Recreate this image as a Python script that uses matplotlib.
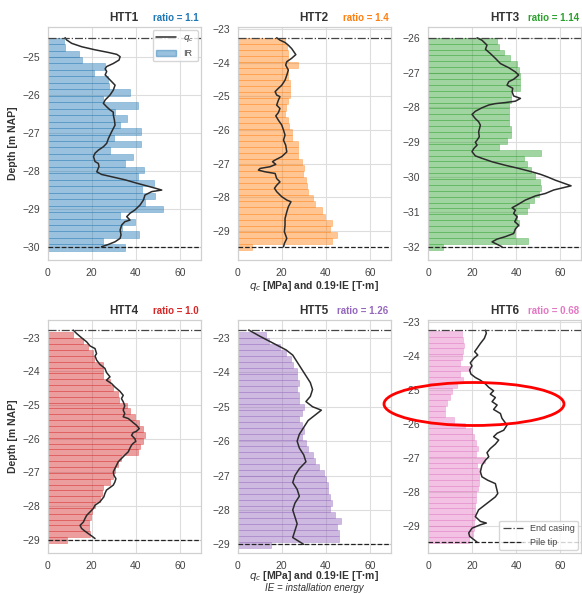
"""Pile installation: IR bars vs cone resistance q_c for six test piles."""

import matplotlib
matplotlib.use("Agg")
import matplotlib.pyplot as plt
from matplotlib.lines import Line2D
from matplotlib.patches import Patch, Ellipse
from matplotlib.ticker import MultipleLocator
import numpy as np
import seaborn as sns

sns.set_style("whitegrid")
plt.rcParams["font.family"] = ["Liberation Sans", "DejaVu Sans"]

# ── Data ──────────────────────────────────────────────────────────────────────
PILES  = ["HTT1", "HTT2", "HTT3", "HTT4", "HTT5", "HTT6"]
RATIOS = ["1.1", "1.4", "1.14", "1.0", "1.26", "0.68"]
COLORS = ["#1f77b4", "#ff7f0e", "#2ca02c", "#d62728", "#9467bd", "#e377c2"]

END_CASING = [-24.50, -23.26, -26.00, -22.77, -22.76, -23.24]   # m NAP
PILE_TIP   = [-30.00, -29.46, -32.00, -29.00, -29.00, -29.47]   # m NAP

# IR bars: depth of the top edge of the first bar and bar spacing (m)
IR_TOP  = [-24.50, -23.26, -26.00, -22.84, -22.84, -23.28]
IR_STEP = [0.170, 0.180, 0.169, 0.174, 0.174, 0.168]

HTT1_IR = [7.6, 7.9, 14.4, 15.5, 26.1, 21.2, 27.6, 27.9, 37.4, 25.3, 40.9,
           30.6, 35.9, 32.9, 42.4, 30.0, 42.4, 28.3, 38.9, 35.1, 43.9, 41.2,
           48.5, 42.7, 48.8, 44.2, 52.6, 32.9, 39.7, 33.6, 41.5, 25.3, 35.1]
HTT2_IR = [21.5, 22.3, 23.0, 23.0, 27.6, 23.0, 23.0, 23.8, 23.8, 23.8, 23.0,
           21.8, 21.5, 23.0, 23.3, 24.5, 24.8, 27.3, 27.3, 27.3, 29.1, 30.3,
           29.8, 30.9, 31.4, 32.1, 34.4, 35.1, 38.5, 39.7, 43.0, 42.0, 45.0,
           43.0, 6.4]
HTT3_IR = [31.4, 32.4, 34.4, 37.4, 40.5, 41.2, 42.0, 42.0, 41.7, 37.9, 37.9,
           36.7, 36.7, 36.7, 37.0, 37.9, 37.9, 35.9, 32.1, 51.5, 43.5, 45.0,
           47.0, 48.8, 51.1, 51.5, 50.3, 48.0, 45.8, 45.0, 40.5, 41.2, 39.4,
           39.7, 45.5, 6.7]
HTT4_IR = [11.6, 15.9, 18.4, 20.4, 21.0, 25.2, 24.9, 25.2, 28.3, 29.5, 32.0,
           32.5, 35.8, 37.3, 39.6, 41.6, 43.4, 44.1, 43.4, 41.9, 41.1, 33.5,
           32.0, 30.5, 29.8, 28.3, 25.2, 24.5, 23.7, 21.5, 19.9, 19.5, 18.9,
           18.9, 19.2, 8.9]
HTT5_IR = [13.0, 14.0, 19.0, 22.0, 24.0, 25.0, 27.0, 27.0, 28.0, 27.0, 28.0,
           28.0, 30.0, 29.0, 28.0, 29.0, 30.0, 29.0, 31.0, 32.0, 34.0, 35.0,
           37.0, 39.0, 40.0, 41.0, 41.0, 42.0, 43.0, 42.0, 44.0, 47.0, 45.0,
           46.0, 46.0, 15.0]
HTT6_IR = [15.5, 15.9, 16.2, 15.9, 15.5, 14.7, 18.9, 14.4, 15.9, 13.2, 10.9,
           10.2, 8.6, 7.9, 7.9, 12.0, 17.0, 20.0, 20.8, 22.0, 22.6, 22.0,
           26.1, 22.3, 23.5, 23.0, 23.0, 22.5, 22.0, 22.0, 21.5, 21.5, 21.5,
           21.0, 21.0, 20.5, 18.5]

# q_c profiles (depth in m NAP, q_c in MPa)
HTT1_QC_DEPTH = [-24.50, -24.56, -24.65, -24.74, -24.82, -24.89, -24.94, -25.00,
                 -25.09, -25.18, -25.26, -25.32, -25.39, -25.48, -25.57, -25.66,
                 -25.75, -25.88, -26.01, -26.14, -26.23, -26.32, -26.40, -26.46,
                 -26.53, -26.67, -26.80, -26.97, -27.15, -27.28, -27.37, -27.46,
                 -27.54, -27.63, -27.76, -27.81, -27.89, -28.03, -28.10, -28.16,
                 -28.24, -28.33, -28.40, -28.46, -28.51, -28.55, -28.64, -28.77,
                 -28.90, -29.03, -29.12, -29.21, -29.30, -29.34, -29.43, -29.56,
                 -29.69, -29.78, -29.87, -29.94, -30.00]
HTT1_QC = [7.9, 8.6, 10.9, 15.5, 21.5, 27.6, 31.4, 32.9, 32.4, 29.8, 26.8, 26.1,
           26.8, 26.1, 27.6, 29.1, 30.6, 29.8, 28.3, 26.1, 25.3, 26.8, 28.3, 29.8,
           29.8, 30.3, 30.6, 29.1, 27.6, 26.8, 25.3, 23.0, 21.5, 20.8, 21.5, 23.0,
           23.3, 22.3, 24.5, 29.1, 35.1, 40.5, 45.0, 48.8, 51.8, 47.3, 44.2, 43.5,
           42.0, 39.7, 37.4, 35.9, 37.4, 35.1, 33.6, 32.9, 33.3, 32.9, 30.6, 27.6,
           24.5]

HTT2_QC_DEPTH = [-23.26, -23.33, -23.40, -23.48, -23.58, -23.76, -23.87, -23.97,
                 -24.07, -24.22, -24.37, -24.52, -24.67, -24.76, -24.86, -24.96,
                 -25.01, -25.11, -25.26, -25.36, -25.48, -25.58, -25.71, -25.85,
                 -26.00, -26.15, -26.30, -26.45, -26.65, -26.79, -26.89, -26.94,
                 -27.02, -27.09, -27.14, -27.19, -27.24, -27.29, -27.44, -27.54,
                 -27.64, -27.73, -27.83, -27.98, -28.08, -28.13, -28.28, -28.43,
                 -28.63, -28.82, -29.02, -29.22, -29.37, -29.47]
HTT2_QC = [17.7, 19.2, 21.5, 23.0, 24.5, 26.4, 24.5, 22.3, 21.8, 23.0, 22.3, 21.5,
           20.0, 18.5, 17.0, 17.7, 19.2, 18.5, 17.7, 19.2, 18.5, 17.3, 18.5, 20.0,
           20.8, 21.5, 20.8, 21.8, 22.3, 20.0, 17.0, 15.8, 17.3, 14.7, 10.2, 9.4,
           12.4, 17.0, 17.7, 19.2, 17.7, 16.7, 17.7, 20.0, 22.3, 24.2, 23.0, 22.3,
           21.5, 21.5, 21.2, 22.3, 21.2, 20.8]

HTT3_QC_DEPTH = [-26.00, -26.07, -26.21, -26.33, -26.45, -26.59, -26.74, -26.86,
                 -26.98, -27.07, -27.19, -27.26, -27.36, -27.45, -27.55, -27.67,
                 -27.74, -27.82, -27.86, -27.89, -27.93, -28.01, -28.11, -28.20,
                 -28.32, -28.41, -28.51, -28.70, -28.84, -28.94, -29.00, -29.08,
                 -29.18, -29.27, -29.39, -29.46, -29.56, -29.66, -29.75, -29.85,
                 -29.92, -29.99, -30.09, -30.25, -30.37, -30.47, -30.54, -30.66,
                 -30.80, -30.88, -30.95, -31.04, -31.14, -31.28, -31.38, -31.49,
                 -31.62, -31.71, -31.78, -31.86, -31.93, -32.00]
HTT3_QC = [22.3, 24.5, 26.8, 26.1, 28.3, 30.6, 32.9, 36.7, 39.7, 41.2, 38.9, 36.7,
           35.9, 38.5, 38.2, 38.9, 42.0, 39.7, 35.1, 30.6, 27.6, 24.5, 21.5, 20.0,
           21.5, 23.0, 23.8, 23.0, 23.3, 22.3, 21.5, 22.3, 20.8, 20.0, 21.5, 24.5,
           29.1, 35.1, 41.2, 47.3, 51.1, 54.1, 57.9, 65.0, 57.1, 53.3, 48.8, 44.2,
           40.5, 38.2, 39.7, 38.9, 40.5, 39.4, 41.2, 39.7, 38.9, 35.1, 31.4, 29.1,
           31.4, 33.6]

HTT4_QC_DEPTH = [-22.77, -22.87, -23.00, -23.12, -23.24, -23.32, -23.47, -23.54,
                 -23.66, -23.79, -23.91, -24.03, -24.16, -24.26, -24.36, -24.46,
                 -24.59, -24.71, -24.81, -24.90, -25.02, -25.15, -25.25, -25.35,
                 -25.40, -25.52, -25.60, -25.70, -25.78, -25.82, -25.90, -26.00,
                 -26.08, -26.14, -26.19, -26.29, -26.39, -26.49, -26.59, -26.69,
                 -26.79, -26.89, -26.99, -27.09, -27.19, -27.29, -27.38, -27.53,
                 -27.63, -27.73, -27.88, -27.98, -28.08, -28.18, -28.28, -28.38,
                 -28.48, -28.58, -28.67, -28.75, -28.82, -28.89, -28.97]
HTT4_QC = [11.6, 13.1, 15.4, 17.7, 19.2, 21.5, 22.2, 21.5, 22.2, 23.7, 26.0, 26.7,
           28.3, 26.7, 29.0, 30.5, 32.8, 34.3, 33.5, 34.3, 35.0, 34.3, 35.0, 34.3,
           36.6, 38.8, 40.3, 41.6, 40.3, 38.8, 38.1, 39.6, 40.0, 38.8, 38.1, 37.3,
           36.6, 35.0, 33.5, 32.0, 31.3, 30.5, 29.8, 30.1, 31.0, 30.5, 29.8, 26.7,
           26.0, 25.5, 23.7, 21.5, 20.7, 19.2, 17.7, 16.9, 16.2, 14.7, 15.4, 16.9,
           18.4, 19.9, 21.5]

HTT5_QC_DEPTH = [-22.77, -22.95, -23.15, -23.35, -23.50, -23.70, -23.90, -24.10,
                 -24.30, -24.50, -24.70, -24.85, -25.00, -25.10, -25.25, -25.40,
                 -25.60, -25.80, -26.00, -26.20, -26.40, -26.60, -26.80, -27.00,
                 -27.20, -27.40, -27.60, -27.80, -28.00, -28.20, -28.40, -28.60,
                 -28.80, -29.00]
HTT5_QC = [5.0, 10.0, 16.0, 22.0, 25.0, 27.0, 29.0, 31.0, 33.0, 34.0, 33.0, 31.0,
           34.0, 38.0, 35.0, 32.0, 30.0, 28.0, 27.0, 28.0, 30.0, 31.0, 28.0, 26.0,
           25.0, 27.0, 28.0, 26.0, 25.0, 26.0, 27.0, 26.0, 25.0, 30.0]

HTT6_QC_DEPTH = [-23.25, -23.34, -23.49, -23.64, -23.78, -23.88, -23.98, -24.08,
                 -24.21, -24.30, -24.42, -24.54, -24.64, -24.72, -24.83, -24.93,
                 -25.03, -25.13, -25.23, -25.35, -25.45, -25.58, -25.70, -25.84,
                 -26.04, -26.19, -26.28, -26.38, -26.48, -26.60, -26.73, -26.85,
                 -26.97, -27.07, -27.22, -27.41, -27.56, -27.66, -27.76, -28.05,
                 -28.15, -28.34, -28.53, -28.73, -28.87, -28.92, -28.97, -29.07,
                 -29.21, -29.31, -29.48]
HTT6_QC = [26.1, 26.5, 25.6, 23.8, 22.3, 21.2, 22.6, 20.8, 19.2, 20.0, 18.9, 19.5,
           21.5, 23.8, 26.1, 27.6, 29.8, 28.3, 30.6, 29.1, 31.4, 29.8, 32.9, 33.6,
           35.9, 34.4, 31.4, 29.8, 32.1, 30.6, 28.3, 26.8, 27.6, 26.1, 24.5, 23.8,
           24.5, 27.1, 30.6, 31.7, 30.6, 26.8, 23.0, 21.5, 23.8, 26.5, 23.8, 20.0,
           18.5, 18.9, 22.3]

IR_VALUES = [HTT1_IR, HTT2_IR, HTT3_IR, HTT4_IR, HTT5_IR, HTT6_IR]
QC_DEPTHS = [HTT1_QC_DEPTH, HTT2_QC_DEPTH, HTT3_QC_DEPTH,
             HTT4_QC_DEPTH, HTT5_QC_DEPTH, HTT6_QC_DEPTH]
QC_VALUES = [HTT1_QC, HTT2_QC, HTT3_QC, HTT4_QC, HTT5_QC, HTT6_QC]

# ── Layout (pixels in a 582 x 593 figure) ─────────────────────────────────────
W, H = 582, 593
COL_LEFT = [47.7, 237.7, 428.0]
ROW_TOP  = [27.0, 320.0]
AX_W, AX_H = 153.0, 233.0
XLIM = (0, 69.5)
YLIMS = [(-30.35, -24.22), (-29.86, -22.94), (-32.38, -25.69),
         (-29.40, -22.47), (-29.25, -22.48), (-29.80, -22.95)]
RATIO_X = [0.69, 0.688, 0.652, 0.686, 0.65, 0.652]

LINE_COLOR = "#2b2b2b"
TEXT_COLOR = "#444444"


def make_axes(fig, i):
    row, col = divmod(i, 3)
    left = COL_LEFT[col] / W
    bottom = 1 - (ROW_TOP[row] + AX_H) / H
    return fig.add_axes([left, bottom, AX_W / W, AX_H / H])


def draw_panel(ax, i):
    color = COLORS[i]
    ir = IR_VALUES[i]
    centers = IR_TOP[i] - IR_STEP[i] * (np.arange(len(ir)) + 0.5)
    ax.barh(centers, ir, height=IR_STEP[i], color=color, alpha=0.45,
            edgecolor=color, linewidth=0.5, zorder=2)
    ax.plot(QC_VALUES[i], QC_DEPTHS[i], color=LINE_COLOR, linewidth=1.1,
            zorder=4)

    ax.axhline(END_CASING[i], color="#444444", linestyle="-.",
               linewidth=0.9, zorder=5)
    ax.axhline(PILE_TIP[i], color="#222222", linestyle="--",
               linewidth=0.9, zorder=5)

    ax.set_xlim(*XLIM)
    ax.set_ylim(*YLIMS[i])
    ax.xaxis.set_major_locator(MultipleLocator(20))
    ax.yaxis.set_major_locator(MultipleLocator(1))
    ax.tick_params(labelsize=7.5, colors=TEXT_COLOR, pad=2)
    ax.grid(True, color="#dddddd", linewidth=0.8, zorder=0)
    for s in ax.spines.values():
        s.set_color("#d0d0d0")
        s.set_linewidth(0.9)

    ax.set_title(PILES[i], fontsize=8.5, fontweight="bold", color="#333333",
                 pad=4.5)
    ax.text(RATIO_X[i], 1.027, f"ratio = {RATIOS[i]}", transform=ax.transAxes,
            fontsize=7, fontweight="bold", color=color, va="baseline")


if __name__ == "__main__":
    fig = plt.figure(figsize=(W / 100, H / 100), dpi=100)
    axes = [make_axes(fig, i) for i in range(6)]
    for i, ax in enumerate(axes):
        draw_panel(ax, i)

    for ax in (axes[0], axes[3]):
        ax.set_ylabel("Depth [m NAP]", fontsize=7.5, fontweight="bold",
                      color="#333333", labelpad=3)

    xlabel = "$q_c$ [MPa] and 0.19·IE [T·m]"
    axes[1].set_xlabel(xlabel, fontsize=7.5, fontweight="bold",
                       color="#333333", labelpad=1)
    axes[4].set_xlabel(xlabel, fontsize=7.5, fontweight="bold",
                       color="#333333", labelpad=-1)
    fig.text(COL_LEFT[1] / W + AX_W / W / 2, 1 - 591 / H,
             "IE = installation energy", fontsize=7, style="italic",
             color="#333333", ha="center", va="baseline")

    # legends
    h1 = [Line2D([], [], color=LINE_COLOR, linewidth=1.1),
          Patch(facecolor=COLORS[0], alpha=0.45, edgecolor=COLORS[0])]
    axes[0].legend(h1, ["$q_c$", "IR"], loc="upper right", fontsize=6.5,
                   frameon=True, borderaxespad=0.3, handlelength=2.2,
                   labelcolor=TEXT_COLOR)
    h6 = [Line2D([], [], color="#444444", linestyle="-.", linewidth=0.9),
          Line2D([], [], color="#222222", linestyle="--", linewidth=0.9)]
    axes[5].legend(h6, ["End casing", "Pile tip"], loc="lower right",
                   fontsize=6.5, frameon=True, borderaxespad=0.3,
                   handlelength=2.2, labelcolor=TEXT_COLOR)

    # highlight drawn over the HTT6 panel
    fig.add_artist(Ellipse((474 / W, 1 - 404 / H), 180 / W, 43 / H,
                           transform=fig.transFigure, fill=False,
                           edgecolor="red", linewidth=2.0, zorder=10))

    fig.savefig("out.png", dpi=100)
